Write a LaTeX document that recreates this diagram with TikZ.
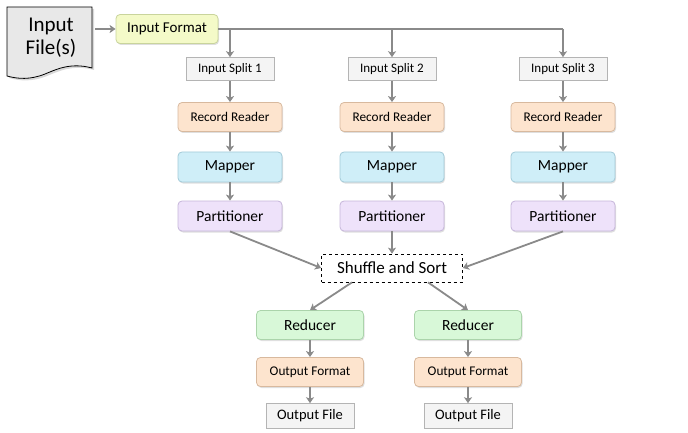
\documentclass[tikz,border=0pt]{standalone}
\usepackage{fontspec}
\setmainfont{Carlito}
\usetikzlibrary{arrows.meta,shadows}
\definecolor{arrgray}{HTML}{8A8A8A}
\definecolor{ifFill}{HTML}{F4FAC8}\definecolor{ifDraw}{HTML}{C9D49C}
\definecolor{rrFill}{HTML}{FDE4CE}\definecolor{rrDraw}{HTML}{D8B99E}
\definecolor{mpFill}{HTML}{CFEEF8}\definecolor{mpDraw}{HTML}{A2CAD8}
\definecolor{ptFill}{HTML}{EEE2FA}\definecolor{ptDraw}{HTML}{C6B6DA}
\definecolor{rdFill}{HTML}{D8F8D8}\definecolor{rdDraw}{HTML}{ABD4AB}
\definecolor{grFill}{HTML}{F4F4F4}\definecolor{grDraw}{HTML}{B4B4B4}
\tikzset{
  box/.style={rounded corners=4pt, line width=0.8pt, inner sep=0pt,
    minimum width=104pt, minimum height=29pt,
    drop shadow={opacity=0.25, shadow xshift=1pt, shadow yshift=-1.5pt}},
  fmtbox/.style={box, fill=ifFill, draw=ifDraw, minimum width=102pt, font=\fontsize{15}{17}\selectfont},
  rrbox/.style={box, fill=rrFill, draw=rrDraw, font=\fontsize{13.3}{15}\selectfont},
  mpbox/.style={box, fill=mpFill, draw=mpDraw, minimum height=30pt, font=\fontsize{15.5}{17}\selectfont},
  ptbox/.style={box, fill=ptFill, draw=ptDraw, minimum height=30pt, font=\fontsize{15.5}{17}\selectfont},
  rdbox/.style={box, fill=rdFill, draw=rdDraw, minimum width=107pt, font=\fontsize{15.5}{17}\selectfont},
  ofbox/.style={box, fill=rrFill, draw=rrDraw, minimum width=107pt, font=\fontsize{13.3}{15}\selectfont},
  splitbox/.style={fill=grFill, draw=grDraw, line width=0.6pt, inner sep=0pt,
    minimum width=88pt, minimum height=23pt, font=\fontsize{13}{15}\selectfont},
  filebox/.style={splitbox, minimum width=88pt, minimum height=25pt, font=\fontsize{14.5}{16}\selectfont},
  conn/.style={draw=arrgray, line width=1.8pt},
  arr/.style={conn, -{Stealth[length=6pt,width=8pt,inset=1.5pt]}},
}
\begin{document}
\begin{tikzpicture}[x=1pt,y=-1pt]
\useasboundingbox (0,0) rectangle (688,433);
% document shape
\path[fill=gray!18, draw=black, line width=0.8pt,
      drop shadow={opacity=0.3, shadow xshift=2pt, shadow yshift=-2pt}]
  (7,7) -- (92,7) -- (92,68) .. controls (70,62) and (55,70) .. (45,74)
  .. controls (30,80) and (18,79) .. (7,76) -- cycle;
\node[align=center, font=\fontsize{21}{23}\selectfont, inner sep=0pt] (doc) at (51,38) {Input\\File(s)};
\coordinate (docR) at (95,29);

\node[fmtbox] (IF) at (167,29) {Input Format};

\foreach \i/\x in {1/230,2/392,3/563}{
  \coordinate (j\i) at (\x,29);
  \node[splitbox] (S\i) at (\x,69) {Input Split \i};
  \node[rrbox] (R\i) at (\x,117) {Record Reader};
  \node[mpbox] (M\i) at (\x,167) {Mapper};
  \node[ptbox] (P\i) at (\x,216) {Partitioner};
}
\node[draw=black, dashed, line width=0.7pt, fill=white, inner sep=0pt,
      minimum width=141pt, minimum height=28pt, font=\fontsize{17}{19}\selectfont] (SS) at (392,268) {Shuffle and Sort};

\foreach \i/\x in {1/310,2/468}{
  \node[rdbox] (D\i) at (\x,325) {Reducer};
  \node[ofbox] (O\i) at (\x,372) {Output Format};
  \node[filebox] (F\i) at (\x,416) {Output File};
}

% connectors
\draw[arr] (docR) -- (IF.west);
\draw[conn] (IF.east) -- (j3);
\draw[arr] (j1) -- (S1.north);
\draw[arr] (j2) -- (S2.north);
\draw[arr] (j3) -- (S3.north);
\foreach \i in {1,2,3}{
  \draw[arr] (S\i.south) -- (R\i.north);
  \draw[arr] (R\i.south) -- (M\i.north);
  \draw[arr] (M\i.south) -- (P\i.north);
}
\draw[arr] (P1.south) -- (SS.west);
\draw[arr] (P2.south) -- (SS.north);
\draw[arr] (P3.south) -- (SS.east);
\draw[arr] ([xshift=-40pt]SS.south) -- (D1.north);
\draw[arr] ([xshift=36pt]SS.south) -- (D2.north);
\foreach \i in {1,2}{
  \draw[arr] (D\i.south) -- (O\i.north);
  \draw[arr] (O\i.south) -- (F\i.north);
}
\end{tikzpicture}
\end{document}
